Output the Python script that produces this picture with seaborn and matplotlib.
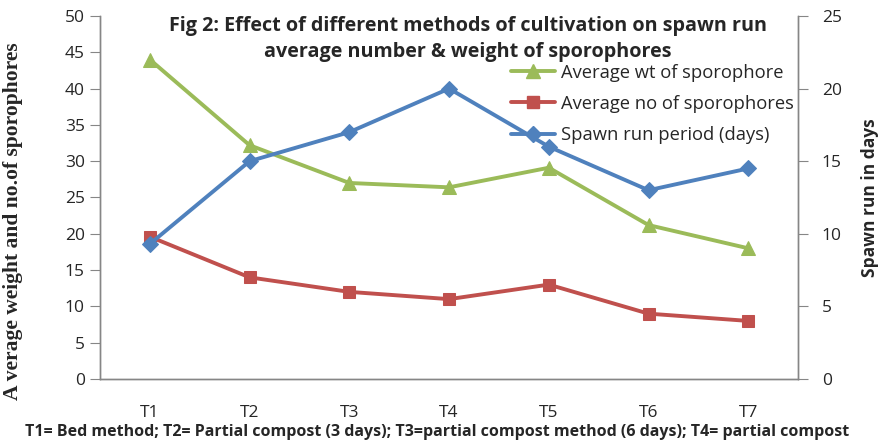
import matplotlib
matplotlib.use('Agg')
import pandas as pd
import seaborn as sns
import matplotlib.pyplot as plt
from matplotlib.lines import Line2D

treatments = ['T1', 'T2', 'T3', 'T4', 'T5', 'T6', 'T7']
avg_wt = [44, 32.2, 27, 26.4, 29.1, 21.2, 18]
avg_no = [19.6, 14, 12, 11, 13, 9, 8]
spawn_run = [9.3, 15, 17, 20, 16, 13, 14.5]

green = '#9BBB59'
red = '#C0504D'
blue = '#4F81BD'
grey = '#868686'

sns.set_style('white')
plt.rcParams['font.family'] = ['Open Sans', 'DejaVu Sans']

df = pd.DataFrame({'Treatment': treatments, 'wt': avg_wt, 'no': avg_no, 'spawn': spawn_run})

fig = plt.figure(figsize=(8.8, 4.44), dpi=100)
ax = fig.add_axes([0.1136, 0.1464, 0.7934, 0.8176])
ax2 = ax.twinx()

sns.lineplot(data=df, x='Treatment', y='wt', ax=ax, color=green, lw=2.8,
             marker='^', markersize=10, markeredgecolor=green, sort=False)
sns.lineplot(data=df, x='Treatment', y='no', ax=ax, color=red, lw=2.8,
             marker='s', markersize=9, markeredgecolor=red, sort=False)
sns.lineplot(data=df, x='Treatment', y='spawn', ax=ax2, color=blue, lw=2.8,
             marker='D', markersize=8, markeredgecolor=blue, sort=False)

ax.set_xlim(-0.5, 6.5)
ax.set_ylim(0, 50)
ax2.set_ylim(0, 25)
ax.set_yticks(range(0, 51, 5))
ax2.set_yticks(range(0, 26, 5))
ax.set_xticks(range(7))
ax.set_xticklabels(treatments)
ax.set_xticks([i - 0.5 for i in range(8)], minor=True)

for a in (ax, ax2):
    for s in a.spines.values():
        s.set_color(grey)
        s.set_linewidth(1)
    a.spines['top'].set_visible(False)
ax.tick_params(axis='x', which='major', length=0, pad=19, labelsize=12.5)
ax.tick_params(axis='x', which='minor', length=6, color=grey, direction='out', width=1)
ax.tick_params(axis='y', length=7, color=grey, direction='out', labelsize=12.5, pad=4, left=True)
ax2.tick_params(axis='y', length=7, color=grey, direction='out', labelsize=12.5, pad=10, right=True)
ax.set_xlabel('')
ax.set_ylabel('A verage weight and no.of sporophores', fontsize=15.5, fontweight='bold',
              family='Liberation Serif')
ax.yaxis.set_label_coords(-0.11, 0.435)
ax2.set_ylabel('Spawn run in days', fontsize=12.5, fontweight='bold', labelpad=14)
ax.grid(False)
ax2.grid(False)

fig.text(0.532, 0.912, 'Fig 2: Effect of different methods of cultivation on spawn run\naverage number & weight of sporophores',
         ha='center', va='center', fontsize=14.2, fontweight='bold', linespacing=1.45)

handles = [Line2D([], [], color=green, lw=2.8, marker='^', markersize=10),
           Line2D([], [], color=red, lw=2.8, marker='s', markersize=9),
           Line2D([], [], color=blue, lw=2.8, marker='D', markersize=8)]
labels = ['Average wt of sporophore', 'Average no of sporophores', 'Spawn run period (days)']
ax2.legend(handles, labels, loc='upper left', bbox_to_anchor=(0.576, 0.894), frameon=False,
           fontsize=13.2, handlelength=2.4, handletextpad=0.3, labelspacing=0.72, borderpad=0)

fig.text(0.497, 0.026, 'T1= Bed method; T2= Partial compost (3 days); T3=partial compost method (6 days); T4= partial compost',
         ha='center', va='center', fontsize=11.5, fontweight='bold')

fig.savefig('out.png', dpi=100)
